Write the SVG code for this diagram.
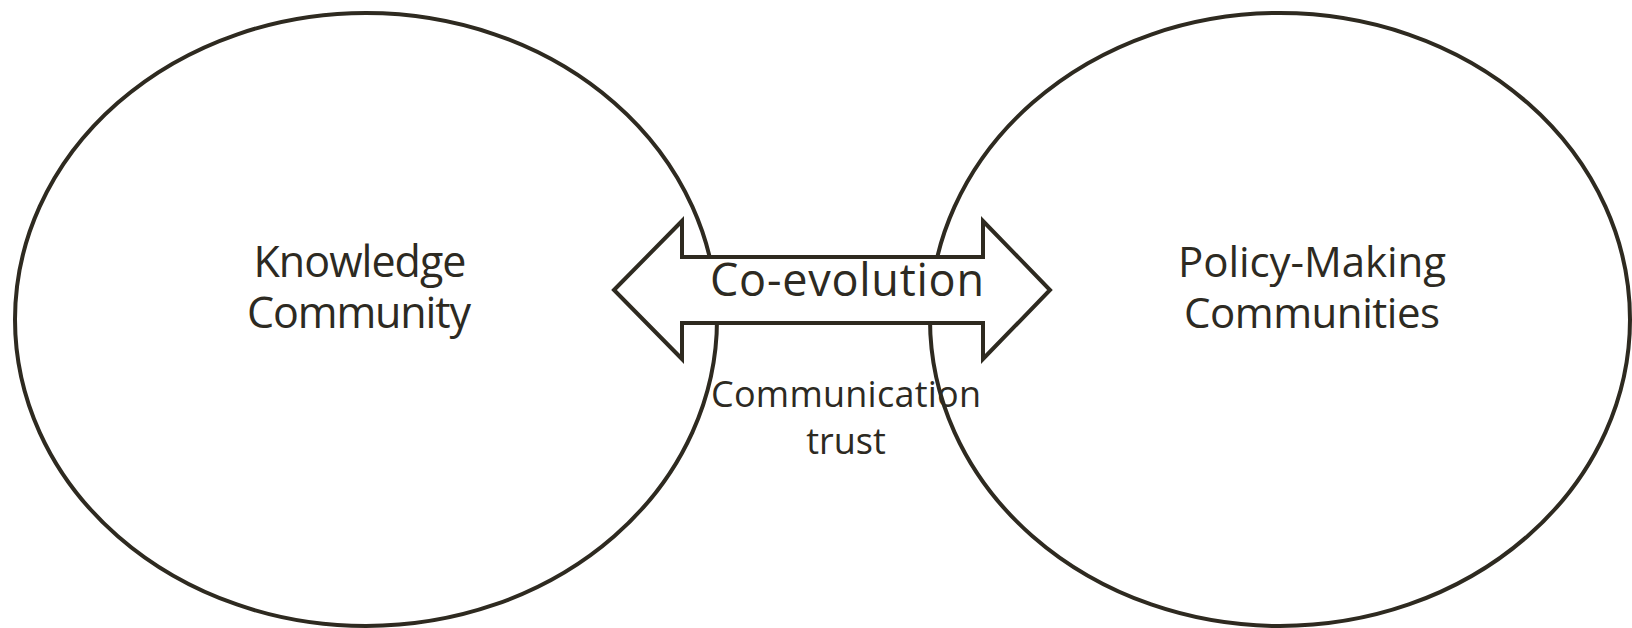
<svg xmlns="http://www.w3.org/2000/svg" width="1632" height="628" viewBox="0 0 1632 628">
<style>
.shape{fill:none;stroke:#2e2a20;stroke-width:4}
.arrow{fill:#ffffff;stroke:#2e2a20;stroke-width:4;stroke-linejoin:miter}
.t{font-family:"Open Sans","Noto Sans","Liberation Sans",sans-serif;fill:#2d2a22;text-anchor:middle}
</style>
<rect width="1632" height="628" fill="#ffffff"/>
<g id="knowledge-community">
<ellipse class="shape" cx="366" cy="319.5" rx="351" ry="306.5"/>
<text class="t" font-size="43"><tspan x="360" y="277" textLength="213">Knowledge</tspan><tspan x="359" y="328" textLength="224">Community</tspan></text>
</g>
<g id="policy-making-communities">
<ellipse class="shape" cx="1280" cy="319.5" rx="350" ry="306.5"/>
<text class="t" font-size="42"><tspan x="1312" y="277" textLength="268">Policy-Making</tspan><tspan x="1312" y="328" textLength="256">Communities</tspan></text>
</g>
<g id="connectors">
<polygon id="co-evolution-arrow" class="arrow" points="614,290 682,221 682,257 983,257 983,221 1050,290 983,359 983,323 682,323 682,359"/>
</g>
<g id="labels">
<text class="t" x="847" y="296" font-size="45" textLength="274">Co-evolution</text>
<text class="t" font-size="36"><tspan x="846" y="407" textLength="270">Communication</tspan><tspan x="846" y="454">trust</tspan></text>
</g>
</svg>
